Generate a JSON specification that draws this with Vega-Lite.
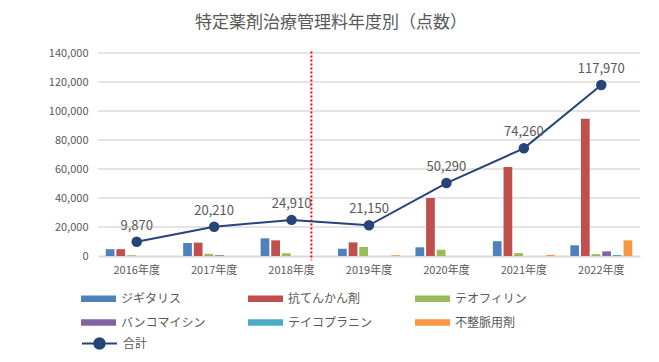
{
  "$schema": "https://vega.github.io/schema/vega-lite/v6.json",
  "width": 542,
  "height": 203,
  "autosize": {"type": "none"},
  "padding": {"left": 98, "top": 53, "right": 19, "bottom": 106},
  "background": "white",
  "title": {
    "text": "特定薬剤治療管理料年度別（点数）",
    "fontSize": 17,
    "font": "Noto Sans CJK JP",
    "fontWeight": "normal",
    "color": "#595959",
    "anchor": "middle",
    "dx": -38,
    "offset": 15
  },
  "config": {
    "view": {"stroke": null},
    "font": "Noto Sans CJK JP",
    "axis": {"labelFont": "Noto Sans CJK JP", "labelColor": "#595959", "labelFontSize": 11}
  },
  "datasets": {
    "grid": [
      {"value": 20000}, {"value": 40000}, {"value": 60000}, {"value": 80000},
      {"value": 100000}, {"value": 120000}, {"value": 140000}
    ],
    "bars": [
      {"year": "2016年度", "drug": "ジギタリス", "value": 4700},
      {"year": "2016年度", "drug": "抗てんかん剤", "value": 4700},
      {"year": "2016年度", "drug": "テオフィリン", "value": 470},
      {"year": "2017年度", "drug": "ジギタリス", "value": 9000},
      {"year": "2017年度", "drug": "抗てんかん剤", "value": 9210},
      {"year": "2017年度", "drug": "テオフィリン", "value": 1500},
      {"year": "2017年度", "drug": "バンコマイシン", "value": 500},
      {"year": "2018年度", "drug": "ジギタリス", "value": 12200},
      {"year": "2018年度", "drug": "抗てんかん剤", "value": 10800},
      {"year": "2018年度", "drug": "テオフィリン", "value": 1910},
      {"year": "2019年度", "drug": "ジギタリス", "value": 5000},
      {"year": "2019年度", "drug": "抗てんかん剤", "value": 9400},
      {"year": "2019年度", "drug": "テオフィリン", "value": 6200},
      {"year": "2019年度", "drug": "不整脈用剤", "value": 550},
      {"year": "2020年度", "drug": "ジギタリス", "value": 6000},
      {"year": "2020年度", "drug": "抗てんかん剤", "value": 40000},
      {"year": "2020年度", "drug": "テオフィリン", "value": 4290},
      {"year": "2021年度", "drug": "ジギタリス", "value": 10200},
      {"year": "2021年度", "drug": "抗てんかん剤", "value": 61300},
      {"year": "2021年度", "drug": "テオフィリン", "value": 2000},
      {"year": "2021年度", "drug": "不整脈用剤", "value": 760},
      {"year": "2022年度", "drug": "ジギタリス", "value": 7400},
      {"year": "2022年度", "drug": "抗てんかん剤", "value": 94570},
      {"year": "2022年度", "drug": "テオフィリン", "value": 1300},
      {"year": "2022年度", "drug": "バンコマイシン", "value": 3200},
      {"year": "2022年度", "drug": "テイコプラニン", "value": 700},
      {"year": "2022年度", "drug": "不整脈用剤", "value": 10800}
    ],
    "total": [
      {"year": "2016年度", "series": "合計", "value": 9870},
      {"year": "2017年度", "series": "合計", "value": 20210},
      {"year": "2018年度", "series": "合計", "value": 24910},
      {"year": "2019年度", "series": "合計", "value": 21150},
      {"year": "2020年度", "series": "合計", "value": 50290},
      {"year": "2021年度", "series": "合計", "value": 74260},
      {"year": "2022年度", "series": "合計", "value": 117970}
    ],
    "marker": [
      {"year": "2018年度", "value": 141000, "bottom": -3000}
    ]
  },
  "encoding": {
    "y": {
      "field": "value",
      "type": "quantitative",
      "scale": {"domain": [0, 140000], "nice": false},
      "axis": {
        "title": null,
        "values": [0, 20000, 40000, 60000, 80000, 100000, 120000, 140000],
        "labelExpr": "datum.value == 0 ? '0' : floor(datum.value / 1000) + ',000'",
        "domain": false,
        "ticks": false,
        "grid": false,
        "labelPadding": 10
      }
    }
  },
  "layer": [
    {
      "data": {"name": "grid"},
      "mark": {"type": "rule", "color": "#e4e4e4", "strokeWidth": 2},
      "encoding": {}
    },
    {
      "data": {"name": "bars"},
      "mark": {"type": "bar"},
      "encoding": {
        "x": {
          "field": "year",
          "type": "nominal",
          "sort": null,
          "scale": {"domain": ["2016年度", "2017年度", "2018年度", "2019年度", "2020年度", "2021年度", "2022年度"], "paddingInner": 0.2, "paddingOuter": 0.1},
          "axis": {"title": null, "labelAngle": 0, "ticks": false, "domain": true, "domainColor": "#d9d9d9", "domainWidth": 2, "labelPadding": 8, "grid": false}
        },
        "xOffset": {
          "field": "drug",
          "type": "nominal",
          "scale": {"domain": ["ジギタリス", "抗てんかん剤", "テオフィリン", "バンコマイシン", "テイコプラニン", "不整脈用剤"], "paddingInner": 0.18}
        },
        "color": {
          "field": "drug",
          "type": "nominal",
          "scale": {
            "domain": ["ジギタリス", "抗てんかん剤", "テオフィリン", "バンコマイシン", "テイコプラニン", "不整脈用剤"],
            "range": ["#4F81BD", "#C0504D", "#9BBB59", "#8064A2", "#4BACC6", "#F79646"]
          },
          "legend": {
            "title": null,
            "orient": "none",
            "direction": "horizontal",
            "legendX": -17,
            "legendY": 228,
            "columns": 3,
            "gridAlign": "all",
            "columnPadding": 42,
            "rowPadding": -13,
            "symbolType": "M-1,-0.18H1V0.18H-1Z",
            "symbolSize": 1225,
            "symbolStrokeWidth": 0,
            "labelFontSize": 12,
            "labelColor": "#595959",
            "labelFont": "Noto Sans CJK JP",
            "labelOffset": 5,
            "labelLimit": 200
          }
        }
      }
    },
    {
      "data": {"name": "marker"},
      "mark": {"type": "rule", "color": "#FF0000", "strokeWidth": 2, "strokeDash": [2, 2]},
      "encoding": {
        "x": {"field": "year", "type": "nominal", "bandPosition": 0.82},
        "y2": {"field": "bottom"}
      }
    },
    {
      "data": {"name": "total"},
      "mark": {"type": "line", "strokeWidth": 2},
      "encoding": {
        "x": {"field": "year", "type": "nominal"},
        "stroke": {
          "field": "series",
          "type": "nominal",
          "scale": {"domain": ["合計"], "range": ["#264478"]},
          "legend": {
            "title": null,
            "orient": "none",
            "legendX": -17,
            "legendY": 272,
            "symbolType": "M-1,0H1M-0.3,0A0.3,0.3 0 1,1 0.3,0A0.3,0.3 0 1,1 -0.3,0Z",
            "symbolSize": 1225,
            "symbolStrokeWidth": 2,
            "symbolFillColor": "#264478",
            "labelFontSize": 12,
            "labelColor": "#595959",
            "labelFont": "Noto Sans CJK JP",
            "labelOffset": 5
          }
        }
      }
    },
    {
      "data": {"name": "total"},
      "mark": {"type": "point", "filled": true, "size": 110, "color": "#264478", "opacity": 1},
      "encoding": {"x": {"field": "year", "type": "nominal"}}
    },
    {
      "data": {"name": "total"},
      "mark": {"type": "text", "dy": -16, "fontSize": 13, "color": "#595959", "font": "Noto Sans CJK JP"},
      "encoding": {
        "x": {"field": "year", "type": "nominal"},
        "text": {"field": "value", "type": "quantitative", "format": ","}
      }
    }
  ]
}
